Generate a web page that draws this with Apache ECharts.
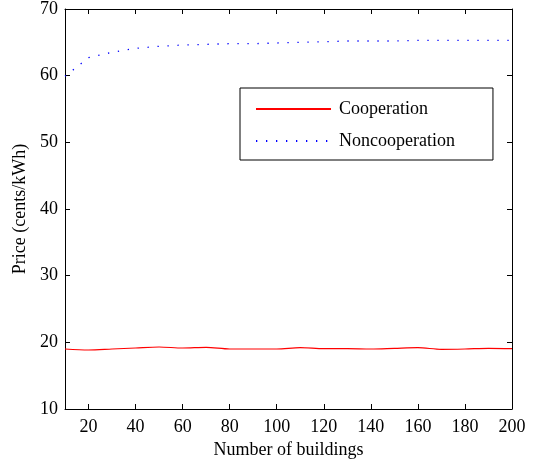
<!DOCTYPE html>
<html>
<head>
<meta charset="utf-8">
<script src="https://cdn.jsdelivr.net/npm/echarts@6/dist/echarts.min.js"></script>
<style>
  html, body { margin: 0; padding: 0; background: #fff; }
  #main { width: 540px; height: 466px; }
</style>
</head>
<body>
<div id="main"></div>
<script>
var buildings = [10, 20, 30, 40, 50, 60, 70, 80, 90, 100, 110, 120, 130, 140, 150, 160, 170, 180, 190, 200]
var cooperation = [19.0, 18.85, 19.0, 19.15, 19.3, 19.15, 19.25, 19.0, 19.0, 19.0, 19.2, 19.05, 19.05, 19.0, 19.1, 19.2, 18.95, 19.0, 19.1, 19.05]
var noncooperation = [59.9, 62.7, 63.5, 64.1, 64.4, 64.6, 64.7, 64.8, 64.8, 64.9, 65.0, 65.1, 65.2, 65.2, 65.2, 65.3, 65.3, 65.3, 65.3, 65.3]
var xTicks = [20, 40, 60, 80, 100, 120, 140, 160, 180, 200]

var font = 'Liberation Serif'

function pairs(xs, ys) {
  var out = []
  for (let i = 0; i < xs.length; i++) {
    out.push([xs[i], ys[i]])
  }
  return out
}

var chart = echarts.init(document.getElementById('main'))
var axisLine = { lineStyle: { color: '#000', width: 1 } }
var tick = { inside: true, length: 5, lineStyle: { color: '#000' } }

chart.setOption({
  animation: false,
  textStyle: { fontFamily: font, color: '#000' },
  grid: { left: 65, right: 28, top: 6, bottom: 57 },
  legend: {
    orient: 'vertical',
    left: 240,
    top: 88,
    padding: [12, 38, 10, 15],
    borderColor: '#000',
    borderWidth: 1,
    itemWidth: 75,
    itemHeight: 18,
    itemGap: 14,
    itemStyle: { opacity: 0 },
    textStyle: { fontFamily: font, fontSize: 18, color: '#000', lineHeight: 18, padding: [0, 0, 0, 3] },
    data: ['Cooperation', 'Noncooperation']
  },
  xAxis: [{
    type: 'value',
    min: 10,
    max: 200,
    name: 'Number of buildings',
    nameLocation: 'middle',
    nameGap: 31,
    nameTextStyle: { fontFamily: font, fontSize: 18, color: '#000' },
    axisLine: axisLine,
    axisTick: Object.assign({ customValues: xTicks }, tick),
    axisLabel: { customValues: xTicks, fontFamily: font, fontSize: 18, color: '#000', margin: 9 },
    splitLine: { show: false }
  }, {
    type: 'value',
    position: 'top',
    min: 10,
    max: 200,
    axisLine: axisLine,
    axisTick: Object.assign({ customValues: xTicks }, tick),
    axisLabel: { show: false },
    splitLine: { show: false }
  }],
  yAxis: [{
    type: 'value',
    min: 10,
    max: 70,
    interval: 10,
    name: 'Price (cents/kWh)',
    nameLocation: 'middle',
    nameGap: 35,
    nameTextStyle: { fontFamily: font, fontSize: 18, color: '#000' },
    axisLine: axisLine,
    axisTick: tick,
    axisLabel: { fontFamily: font, fontSize: 18, color: '#000', margin: 7 },
    splitLine: { show: false }
  }, {
    type: 'value',
    position: 'right',
    min: 10,
    max: 70,
    interval: 10,
    axisLine: axisLine,
    axisTick: tick,
    axisLabel: { show: false },
    splitLine: { show: false }
  }],
  series: [{
    name: 'Cooperation',
    type: 'line',
    symbol: 'none',
    smooth: 0.3,
    data: pairs(buildings, cooperation),
    lineStyle: { color: '#ff0000', width: 1.2 },
    itemStyle: { color: '#ff0000' }
  }, {
    name: 'Noncooperation',
    type: 'line',
    symbol: 'none',
    data: pairs(buildings, noncooperation),
    lineStyle: { color: '#0000ff', width: 1.3, type: [1.3, 8.7] },
    itemStyle: { color: '#0000ff' }
  }]
})
</script>
</body>
</html>
